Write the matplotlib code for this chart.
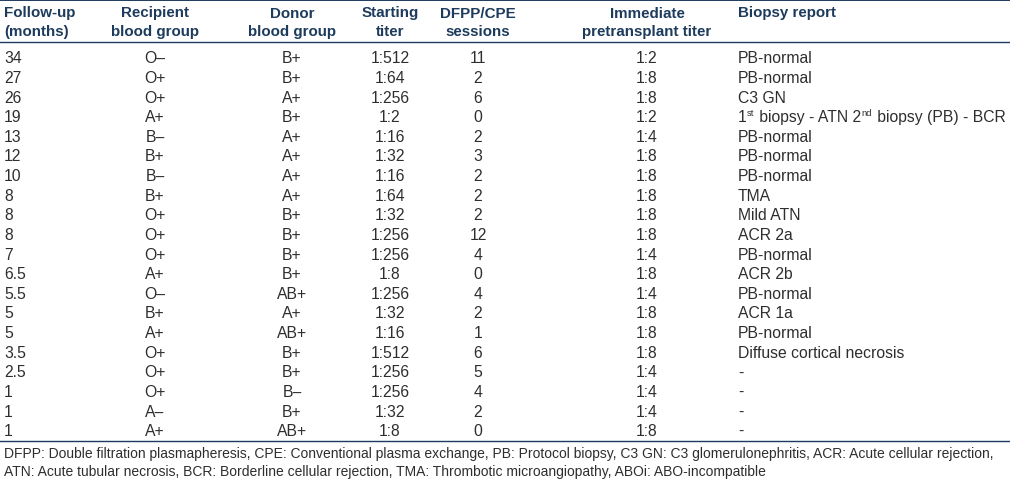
import re
import matplotlib
matplotlib.use("Agg")
import matplotlib.pyplot as plt

plt.rcParams['font.family'] = ['Liberation Sans', 'DejaVu Sans']

headers = ["Follow-up\n(months)", "Recipient\nblood group", "Donor\nblood group",
           "Starting\ntiter", "DFPP/CPE\nsessions", "Immediate\npretransplant titer",
           "Biopsy report"]
follow_up = ["34", "27", "26", "19", "13", "12", "10", "8", "8", "8", "7", "6.5",
             "5.5", "5", "5", "3.5", "2.5", "1", "1", "1"]
recipient = ["O–", "O+", "O+", "A+", "B–", "B+", "B–", "B+", "O+", "O+", "O+", "A+",
             "O–", "B+", "A+", "O+", "O+", "O+", "A–", "A+"]
donor = ["B+", "B+", "A+", "B+", "A+", "A+", "A+", "A+", "B+", "B+", "B+", "B+",
         "AB+", "A+", "AB+", "B+", "B+", "B–", "B+", "AB+"]
start_titer = ["1:512", "1:64", "1:256", "1:2", "1:16", "1:32", "1:16", "1:64", "1:32",
               "1:256", "1:256", "1:8", "1:256", "1:32", "1:16", "1:512", "1:256",
               "1:256", "1:32", "1:8"]
sessions = ["11", "2", "6", "0", "2", "3", "2", "2", "2", "12", "4", "0", "4", "2", "1",
            "6", "5", "4", "2", "0"]
pre_titer = ["1:2", "1:8", "1:8", "1:2", "1:4", "1:8", "1:8", "1:8", "1:8", "1:8", "1:4",
             "1:8", "1:4", "1:8", "1:8", "1:8", "1:4", "1:4", "1:4", "1:8"]
biopsy = ["PB-normal", "PB-normal", "C3 GN",
          "1^{st} biopsy - ATN 2^{nd} biopsy (PB) - BCR",
          "PB-normal", "PB-normal", "PB-normal", "TMA", "Mild ATN", "ACR 2a",
          "PB-normal", "ACR 2b", "PB-normal", "ACR 1a", "PB-normal",
          "Diffuse cortical necrosis", "-", "-", "-", "-"]
footnote = ("DFPP: Double filtration plasmapheresis, CPE: Conventional plasma exchange, "
            "PB: Protocol biopsy, C3 GN: C3 glomerulonephritis, ACR: Acute cellular rejection,\n"
            "ATN: Acute tubular necrosis, BCR: Borderline cellular rejection, TMA: Thrombotic "
            "microangiopathy, ABOi: ABO-incompatible")

columns = [follow_up, recipient, donor, start_titer, sessions, pre_titer, biopsy]
col_x = [4, 155, 292, 390, 478, 647, 738]
col_ha = ["left", "center", "center", "center", "center", "center", "left"]

W, H = 1010, 481
fig = plt.figure(figsize=(W / 100, H / 100), dpi=100)
ax = fig.add_axes([0, 0, 1, 1])
ax.set_xlim(0, W)
ax.set_ylim(H, 0)
ax.axis("off")
renderer = fig.canvas.get_renderer()

navy = "#1d3b5c"
txt = "#2e2e2e"
fs_body = 11.3
fs_head = 10.9
fs_foot = 10.0


def draw_rich(x, y, s, fs, color):
    """Left-aligned text with ^{...} superscripts."""
    parts = re.split(r"(\^\{.*?\})", s)
    cur = x
    for p in parts:
        if not p:
            continue
        if p.startswith("^{"):
            t = ax.text(cur, y - 4.0, p[2:-1], ha="left", va="center",
                        fontsize=fs * 0.6, color=color)
            pad = 1.0
        else:
            t = ax.text(cur, y, p, ha="left", va="center", fontsize=fs, color=color)
            pad = 0.0
        bb = t.get_window_extent(renderer=renderer)
        cur += bb.width + pad


ax.plot([0, W], [1.0, 1.0], color=navy, lw=1.4)
ax.plot([0, W], [42.5, 42.5], color=navy, lw=1.0)
ax.plot([0, W], [441.5, 441.5], color=navy, lw=1.0)

for x, ha, h in zip(col_x, col_ha, headers):
    for j, ln in enumerate(h.split("\n")):
        ax.text(x, 13.5 + 18.5 * j, ln, ha=ha, va="center", fontsize=fs_head,
                fontweight="bold", color=navy)

row0, dy = 58.8, 19.63
for x, ha, col in zip(col_x, col_ha, columns):
    for i, v in enumerate(col):
        y = row0 + dy * i
        if "^{" in v:
            draw_rich(x, y, v, fs_body, txt)
        else:
            ax.text(x, y, v, ha=ha, va="center", fontsize=fs_body, color=txt)

for j, ln in enumerate(footnote.split("\n")):
    ax.text(4, 454.5 + 18 * j, ln, ha="left", va="center", fontsize=fs_foot, color=txt)

fig.savefig("out.png", dpi=100)
